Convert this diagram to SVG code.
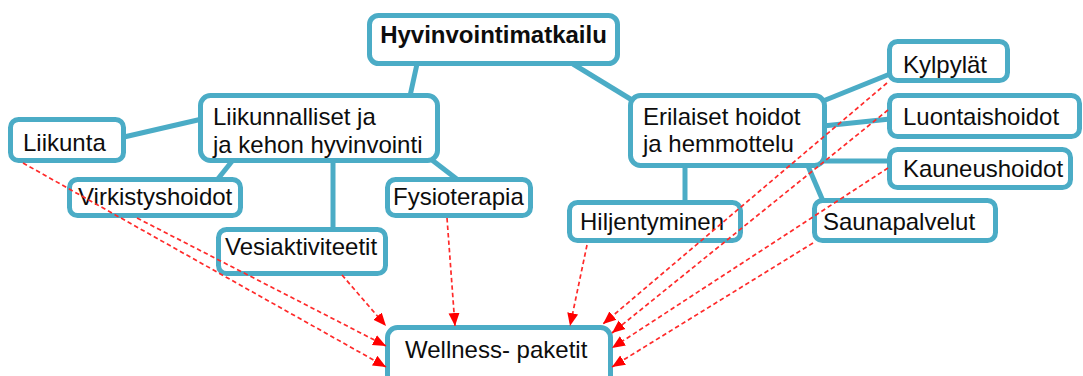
<svg xmlns="http://www.w3.org/2000/svg" width="1083" height="376" viewBox="0 0 1083 376">
<style>
.box{fill:#fff;stroke:#4bacc6;stroke-width:5}
.link{stroke:#4bacc6;stroke-width:5;fill:none}
.arr{stroke:#ff2a2a;stroke-width:1.7;stroke-dasharray:4.5 3;fill:none;marker-end:url(#ah)}
text{font-family:"Liberation Sans",Arial,sans-serif;font-size:24px;fill:#0d0d0d}
.b{font-weight:bold}
</style>
<defs>
<marker id="ah" markerUnits="userSpaceOnUse" markerWidth="14" markerHeight="14" viewBox="0 0 14 14" refX="13" refY="7" orient="auto">
<path d="M0,1.5 L13,7 L0,12.5 Z" fill="#ff0000"/>
</marker>
</defs>
<rect width="1083" height="376" fill="#fff"/>
<g id="links">
<line class="link" x1="417" y1="64" x2="410" y2="96"/>
<line class="link" x1="573" y1="64" x2="632" y2="100"/>
<line class="link" x1="124" y1="137" x2="202" y2="119"/>
<line class="link" x1="233" y1="160" x2="217" y2="180"/>
<line class="link" x1="333" y1="160" x2="333" y2="230"/>
<line class="link" x1="432" y1="160" x2="458" y2="180"/>
<line class="link" x1="685" y1="165" x2="685" y2="203"/>
<line class="link" x1="823" y1="101" x2="890" y2="74"/>
<line class="link" x1="823" y1="126" x2="890" y2="119"/>
<line class="link" x1="823" y1="161" x2="890" y2="161"/>
<line class="link" x1="808" y1="166" x2="823" y2="201"/>
</g>
<g id="n-hyvinvointimatkailu"><rect class="box" x="369.5" y="15.5" width="248" height="48" rx="9"/><text class="b" x="493.5" y="43" text-anchor="middle">Hyvinvointimatkailu</text></g>
<g id="n-liikunnalliset"><rect class="box" x="200.5" y="95.5" width="237" height="65" rx="10"/><text x="213" y="125">Liikunnalliset ja</text><text x="213" y="153">ja kehon hyvinvointi</text></g>
<g id="n-liikunta"><rect class="box" x="10.5" y="119.5" width="113" height="41" rx="8"/><text x="23" y="151">Liikunta</text></g>
<g id="n-virkistyshoidot"><rect class="box" x="69.5" y="179.5" width="171" height="36" rx="8"/><text x="78" y="205">Virkistyshoidot</text></g>
<g id="n-fysioterapia"><rect class="box" x="387.5" y="179.5" width="143" height="36" rx="8"/><text x="393" y="205">Fysioterapia</text></g>
<g id="n-vesiaktiviteetit"><rect class="box" x="218.5" y="229.5" width="167" height="44" rx="8"/><text x="225" y="255">Vesiaktiviteetit</text></g>
<g id="n-erilaiset"><rect class="box" x="630.5" y="95.5" width="194" height="70" rx="10"/><text x="643" y="125">Erilaiset hoidot</text><text x="643" y="152">ja hemmottelu</text></g>
<g id="n-kylpylat"><rect class="box" x="889.5" y="41.5" width="118" height="39" rx="8"/><text x="903" y="73">Kylpylät</text></g>
<g id="n-luontaishoidot"><rect class="box" x="889.5" y="95.5" width="190" height="41" rx="8"/><text x="903" y="125">Luontaishoidot</text></g>
<g id="n-kauneushoidot"><rect class="box" x="889.5" y="149.5" width="181" height="38" rx="8"/><text x="903" y="177">Kauneushoidot</text></g>
<g id="n-saunapalvelut"><rect class="box" x="814.5" y="200.5" width="181" height="40" rx="8"/><text x="823" y="230">Saunapalvelut</text></g>
<g id="n-hiljentyminen"><rect class="box" x="569.5" y="202.5" width="171" height="38" rx="8"/><text x="580" y="230">Hiljentyminen</text></g>
<g id="n-wellness"><rect class="box" x="387.5" y="327.5" width="223" height="70" rx="10"/><text x="405" y="358">Wellness- paketit</text></g>
<g id="arrows">
<line class="arr" x1="23" y1="163" x2="386" y2="367"/>
<line class="arr" x1="137" y1="218" x2="386" y2="346"/>
<line class="arr" x1="342" y1="275" x2="386" y2="326"/>
<line class="arr" x1="447" y1="218" x2="455" y2="326"/>
<line class="arr" x1="587" y1="245" x2="570" y2="326"/>
<line class="arr" x1="887" y1="83" x2="603" y2="324"/>
<line class="arr" x1="888" y1="110" x2="612" y2="333"/>
<line class="arr" x1="888" y1="168" x2="612" y2="348"/>
<line class="arr" x1="813" y1="243" x2="612" y2="367"/>
</g>
</svg>
